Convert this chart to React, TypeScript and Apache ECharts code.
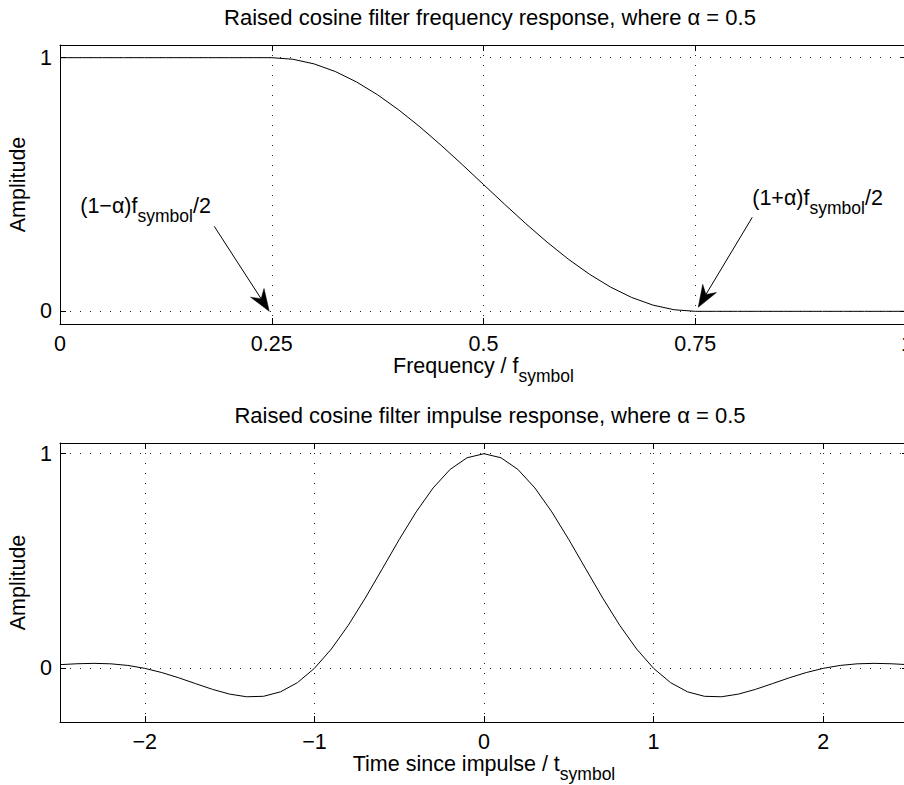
import React, { useEffect, useRef } from 'react';
import * as echarts from 'echarts';

// ---------- data ----------
const FREQ = [
  0, 0.025, 0.05, 0.075, 0.1, 0.125, 0.15, 0.175, 0.2, 0.225,
  0.25, 0.275, 0.3, 0.325, 0.35, 0.375, 0.4, 0.425, 0.45, 0.475,
  0.5, 0.525, 0.55, 0.575, 0.6, 0.625, 0.65, 0.675, 0.7, 0.725,
  0.75, 0.775, 0.8, 0.825, 0.85, 0.875, 0.9, 0.925, 0.95, 0.975, 1,
];
const FREQ_AMP = [
  1, 1, 1, 1, 1, 1, 1, 1, 1, 1,
  1, 0.9938, 0.9755, 0.9455, 0.9045, 0.8536, 0.7939, 0.727, 0.6545, 0.5782,
  0.5, 0.4218, 0.3455, 0.273, 0.2061, 0.1464, 0.0955, 0.0545, 0.0245, 0.0062,
  0, 0, 0, 0, 0, 0, 0, 0, 0, 0, 0,
];
const TIME = [
  -2.5, -2.4, -2.3, -2.2, -2.1, -2.0, -1.9, -1.8, -1.7, -1.6,
  -1.5, -1.4, -1.3, -1.2, -1.1, -1.0, -0.9, -0.8, -0.7, -0.6,
  -0.5, -0.4, -0.3, -0.2, -0.1, 0, 0.1, 0.2, 0.3, 0.4,
  0.5, 0.6, 0.7, 0.8, 0.9, 1.0, 1.1, 1.2, 1.3, 1.4,
  1.5, 1.6, 1.7, 1.8, 1.9, 2.0, 2.1, 2.2, 2.3, 2.4, 2.5,
];
const IMPULSE = [
  0.0172, 0.0214, 0.0233, 0.0211, 0.0136, 0, -0.0196, -0.0441, -0.0714, -0.0981,
  -0.12, -0.1324, -0.1303, -0.1095, -0.0666, 0, 0.09, 0.2008, 0.3275, 0.4634,
  0.6002, 0.7289, 0.8405, 0.9268, 0.9813, 1, 0.9813, 0.9268, 0.8405, 0.7289,
  0.6002, 0.4634, 0.3275, 0.2008, 0.09, 0, -0.0666, -0.1095, -0.1303, -0.1324,
  -0.12, -0.0981, -0.0714, -0.0441, -0.0196, 0, 0.0136, 0.0211, 0.0233, 0.0214, 0.0172,
];
const FREQ_TICKS = [0, 0.25, 0.5, 0.75, 1];
const TIME_TICKS = [-2, -1, 0, 1, 2];
const AMP_TICKS = [0, 1];
const TITLES = [
  'Raised cosine filter frequency response, where α = 0.5',
  'Raised cosine filter impulse response, where α = 0.5',
];
const ANNOTATION_POINTS = [0.25, 0.75];

// ---------- styling ----------
const FONT = "'Liberation Sans', Arial, Helvetica, sans-serif";
const FS = 21.5;
const SUB_FS = 17.5;
const rich = {
  m: { fontFamily: FONT, fontSize: FS, color: '#000', lineHeight: 20, verticalAlign: 'top' },
  s: { fontFamily: FONT, fontSize: SUB_FS, color: '#000', lineHeight: 20, padding: [12, 0, 0, 0], verticalAlign: 'top' },
};

const minus = (v: number) => String(v).replace('-', '\u2212');

function mainX(gridIndex: number, min: number, max: number, ticks: number[], name: string) {
  return {
    type: 'value', gridIndex, min, max, position: 'bottom',
    axisLine: { show: true, onZero: false, lineStyle: { color: '#000', width: 1 } },
    axisTick: { show: true, inside: true, length: 6, customValues: ticks, lineStyle: { color: '#000', width: 1 } },
    axisLabel: { show: true, margin: 10, lineHeight: 20, customValues: ticks, color: '#000', fontSize: FS, fontFamily: FONT, formatter: minus },
    splitLine: { show: true, lineStyle: { color: '#222', width: 1, type: [1, 9] } },
    name, nameLocation: 'middle', nameGap: 31, nameMoveOverlap: false,
    nameTextStyle: { rich },
  };
}
function mirrorX(gridIndex: number, min: number, max: number, ticks: number[]) {
  return {
    type: 'value', gridIndex, min, max, position: 'top',
    axisLine: { show: true, onZero: false, lineStyle: { color: '#000', width: 1 } },
    axisTick: { show: true, inside: true, length: 6, customValues: ticks, lineStyle: { color: '#000', width: 1 } },
    axisLabel: { show: false, customValues: ticks },
    splitLine: { show: false },
  };
}
function mainY(gridIndex: number, min: number, max: number) {
  return {
    type: 'value', gridIndex, min, max, position: 'left',
    axisLine: { show: true, onZero: false, lineStyle: { color: '#000', width: 1 } },
    axisTick: { show: true, inside: true, length: 6, customValues: AMP_TICKS, lineStyle: { color: '#000', width: 1 } },
    axisLabel: { show: true, margin: 8, customValues: AMP_TICKS, color: '#000', fontSize: FS, fontFamily: FONT },
    splitLine: { show: true, lineStyle: { color: '#222', width: 1, type: [1, 9] } },
    name: 'Amplitude', nameLocation: 'middle', nameGap: 31, nameMoveOverlap: false,
    nameTextStyle: { color: '#000', fontSize: FS, fontFamily: FONT },
  };
}
function mirrorY(gridIndex: number, min: number, max: number) {
  return {
    type: 'value', gridIndex, min, max, position: 'right',
    axisLine: { show: true, onZero: false, lineStyle: { color: '#000', width: 1 } },
    axisTick: { show: true, inside: true, length: 6, customValues: AMP_TICKS, lineStyle: { color: '#000', width: 1 } },
    axisLabel: { show: false, customValues: AMP_TICKS },
    splitLine: { show: false },
  };
}

function arrowEls(tip: number[], start: number[]) {
  const dx = tip[0] - start[0];
  const dy = tip[1] - start[1];
  const len = Math.sqrt(dx * dx + dy * dy);
  const ux = dx / len, uy = dy / len;
  const nx = -uy, ny = ux;
  const L = 22, HW = 8, NOTCH = 7;
  const bx = tip[0] - L * ux, by = tip[1] - L * uy;
  const kx = tip[0] - (L - NOTCH) * ux, ky = tip[1] - (L - NOTCH) * uy;
  return [
    { type: 'line', silent: true, shape: { x1: start[0], y1: start[1], x2: kx, y2: ky }, style: { stroke: '#000', lineWidth: 1 } },
    {
      type: 'polygon', silent: true,
      shape: { points: [[tip[0], tip[1]], [bx + HW * nx, by + HW * ny], [kx, ky], [bx - HW * nx, by - HW * ny]] },
      style: { fill: '#000', stroke: '#000', lineWidth: 0.5 },
    },
  ];
}

export default function App() {
  const ref = useRef<HTMLDivElement>(null);
  useEffect(() => {
    if (!ref.current) return;
    const chart = echarts.init(ref.current, null, { renderer: 'svg' });
    const option: any = {
      animation: false,
      backgroundColor: '#fff',
      title: TITLES.map((t, i) => ({
        text: t, left: 490, top: 6 + i * 398, textAlign: 'center', padding: 0,
        textStyle: { fontSize: 22, fontWeight: 'normal', color: '#000', fontFamily: FONT },
      })),
      grid: [
        { left: 60, top: 45, width: 847, height: 279, outerBoundsMode: 'none', containLabel: false },
        { left: 60, top: 443, width: 848, height: 279, outerBoundsMode: 'none', containLabel: false },
      ],
      xAxis: [
        mainX(0, 0, 1, FREQ_TICKS, '{m|Frequency / f}{s|symbol}'),
        mirrorX(0, 0, 1, FREQ_TICKS),
        mainX(1, -2.5, 2.5, TIME_TICKS, '{m|Time since impulse / t}{s|symbol}'),
        mirrorX(1, -2.5, 2.5, TIME_TICKS),
      ],
      yAxis: [
        mainY(0, -0.05, 1.05),
        mirrorY(0, -0.05, 1.05),
        mainY(1, -0.25, 1.05),
        mirrorY(1, -0.25, 1.05),
      ],
      series: [
        {
          type: 'line', xAxisIndex: 0, yAxisIndex: 0, silent: true,
          data: FREQ.map((f, i) => [f, FREQ_AMP[i]]),
          symbol: 'none', showSymbol: false,
          lineStyle: { color: '#000', width: 1 },
        },
        {
          type: 'line', xAxisIndex: 2, yAxisIndex: 2, silent: true,
          data: TIME.map((t, i) => [t, IMPULSE[i]]),
          symbol: 'none', showSymbol: false,
          lineStyle: { color: '#000', width: 1 },
        },
      ],
    };
    chart.setOption(option);

    const p1 = chart.convertToPixel({ xAxisIndex: 0, yAxisIndex: 0 }, [ANNOTATION_POINTS[0], 0]) as number[];
    const p2 = chart.convertToPixel({ xAxisIndex: 0, yAxisIndex: 0 }, [ANNOTATION_POINTS[1], 0]) as number[];
    const tip1 = [p1[0] - 2.5, p1[1]];
    const tip2 = [p2[0] + 3, p2[1] - 4];
    const graphic: any[] = [
      ...arrowEls(tip1, [tip1[0] - 55, tip1[1] - 85]),
      ...arrowEls(tip2, [tip2[0] + 54, tip2[1] - 90]),
      {
        type: 'text', silent: true, x: tip1[0] - 189, y: tip1[1] - 106 - 10,
        style: { text: '{m|(1\u2212\u03b1)f}{s|symbol}{m|/2}', rich, fill: '#000', align: 'left', verticalAlign: 'top', fontFamily: FONT, fontSize: FS },
      },
      {
        type: 'text', silent: true, x: tip2[0] + 54, y: tip2[1] - 110 - 10,
        style: { text: '{m|(1+\u03b1)f}{s|symbol}{m|/2}', rich, fill: '#000', align: 'left', verticalAlign: 'top', fontFamily: FONT, fontSize: FS },
      },
    ];
    chart.setOption({ graphic });
    return () => chart.dispose();
  }, []);
  return <div ref={ref} style={{ position: 'absolute', left: 0, top: 0, width: 904, height: 785 }} />;
}
